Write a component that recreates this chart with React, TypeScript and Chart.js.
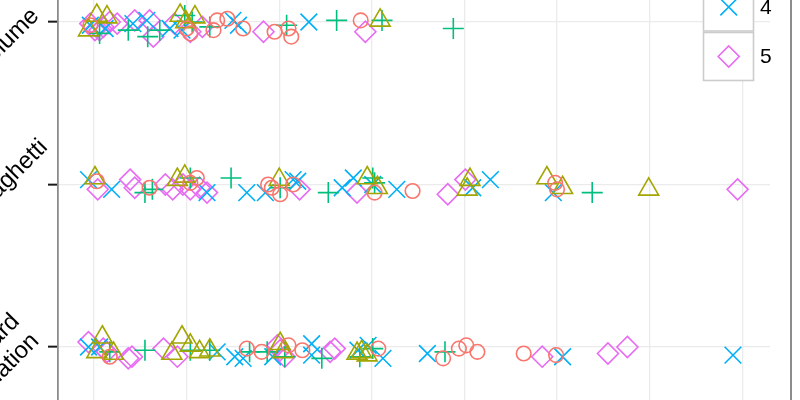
import React, { useEffect, useRef } from 'react';
import { Chart, registerables, PointElement } from 'chart.js';

Chart.register(...registerables);

// Category (y) labels, top to bottom
const categories: string[][] = [['Volume'], ['Spaghetti'], ['Standard', 'deviation']];
const categoryIndex = [0, 1, 2];

const groupNames = ['1', '2', '3', '4', '5'];
const groupColors = ['#F8766D', '#A3A500', '#00BF7D', '#00B0F6', '#E76BF3'];
const groupShapes = ['circle', 'triangle', 'cross', 'crossRot', 'rectRot'];
const groupRadii = [7.3, 11.5, 10.5, 11.8, 10.5];

const xGridValues = [0, 10, 20, 30, 40, 50, 60, 70];

// [x value, category index + jitter]
const group1: [number, number][] = [
  [-0.4, 0.02], [10.0, 0.04], [10.4, 0.07], [12.9, 0.05], [13.3, -0.01], [14.4, -0.02], [16.1, 0.04],
  [19.5, 0.06], [21.0, 0.04], [21.3, 0.09], [28.8, -0.01],
  [0.3, 0.98], [6.0, 1.02], [10.4, 0.99], [11.1, 0.96], [18.8, 1.0], [19.2, 1.02], [20.1, 1.06],
  [21.5, 1.0], [30.3, 1.05], [34.4, 1.04], [49.8, 0.99], [50.0, 1.03],
  [1.7, 2.06], [16.5, 2.01], [18.1, 2.03], [21.0, 1.99], [22.5, 2.02], [30.7, 2.01], [37.7, 2.07],
  [39.4, 2.01], [40.2, 1.99], [41.4, 2.03], [46.4, 2.04], [49.9, 2.05],
];
const group2: [number, number][] = [
  [-0.6, 0.05], [0.3, -0.04], [1.4, -0.03], [9.3, -0.04], [9.9, 0.0], [10.9, -0.03], [30.9, -0.01],
  [0.1, 0.96], [9.0, 0.97], [9.8, 0.95], [20.0, 0.97], [29.5, 0.96], [30.6, 1.02], [40.6, 0.97],
  [40.3, 1.03], [48.9, 0.96], [50.6, 1.02], [59.9, 1.03],
  [0.3, 2.03], [0.9, 1.94], [2.1, 2.04], [8.4, 2.04], [9.5, 1.94], [10.4, 1.99], [11.4, 2.03],
  [12.5, 2.02], [20.1, 1.98], [20.4, 2.03], [28.4, 2.04], [28.9, 2.03], [29.5, 2.05],
];
const group3: [number, number][] = [
  [0.6, 0.07], [3.7, 0.05], [5.8, 0.09], [7.1, 0.05], [9.8, -0.04], [10.6, 0.0], [12.5, 0.03],
  [20.8, 0.02], [26.2, -0.01], [31.1, -0.01], [38.8, 0.04],
  [5.5, 1.05], [6.3, 1.03], [10.4, 0.96], [14.8, 0.96], [20.1, 1.02], [25.3, 1.05], [30.1, 0.96],
  [30.3, 0.99], [53.8, 1.05],
  [1.7, 2.03], [5.5, 2.02], [10.4, 2.02], [12.5, 2.02], [16.8, 2.03], [18.7, 2.03], [20.6, 2.06],
  [24.6, 2.07], [28.7, 2.06], [30.1, 2.01], [37.9, 2.03],
];
const group4: [number, number][] = [
  [-0.4, 0.02], [1.2, 0.04], [4.2, 0.01], [5.7, -0.01], [8.2, 0.04], [9.5, 0.05], [15.0, -0.01],
  [15.6, 0.02], [23.2, 0.0],
  [-0.6, 0.97], [1.9, 1.03], [12.2, 1.05], [16.5, 1.05], [18.5, 1.05], [21.5, 0.97], [22.0, 0.98],
  [26.8, 1.02], [28.0, 0.96], [30.1, 1.0], [32.7, 1.03], [40.9, 1.02], [42.8, 0.97], [49.6, 1.05],
  [-0.6, 2.0], [0.6, 2.0], [13.3, 2.03], [15.2, 2.06], [16.1, 2.07], [19.3, 2.06], [23.5, 1.98],
  [23.5, 2.05], [28.5, 2.02], [29.6, 1.99], [31.2, 2.07], [36.0, 2.04], [50.6, 2.06], [69.0, 2.05],
];
const group5: [number, number][] = [
  [-0.4, 0.01], [0.1, 0.05], [0.6, 0.05], [1.0, 0.03], [1.7, 0.0], [2.5, 0.01], [4.4, -0.01],
  [6.0, -0.01], [6.4, 0.09], [8.7, 0.01], [10.4, 0.06], [11.7, 0.03], [18.3, 0.06], [29.3, 0.06],
  [0.4, 1.03], [3.9, 0.97], [4.4, 1.02], [7.7, 1.0], [8.5, 1.03], [9.6, 1.0], [10.4, 1.03],
  [11.4, 1.02], [12.2, 1.05], [22.2, 1.03], [28.4, 1.05], [38.2, 1.06], [40.1, 0.97], [69.5, 1.03],
  [-0.6, 1.97], [1.0, 2.01], [1.4, 2.03], [3.7, 2.07], [4.1, 2.06], [7.5, 2.01], [9.0, 2.06],
  [19.8, 1.99], [20.1, 2.02], [20.6, 2.06], [25.5, 2.03], [26.0, 2.01], [48.4, 2.06], [55.5, 2.04],
  [57.6, 2.0],
];
const groups = [group1, group2, group3, group4, group5];

const FONT = '"Liberation Sans", Arial, Helvetica, sans-serif';
const LABEL_SIZE = 24;
const LABEL_LH = 27.5;
// rotated-frame nudges of each category label (along text, across text)
const labelNudge: [number, number][] = [[0, 0], [28, -16], [0, 0]];

const rotatedLabels = {
  id: 'rotatedLabels',
  afterDraw(chart: any) {
    const ctx = chart.ctx as CanvasRenderingContext2D;
    const ys = chart.scales.y;
    const anchorX = ys.right - 10 - 3;
    ctx.save();
    ctx.fillStyle = '#000000';
    ctx.font = `${LABEL_SIZE}px ${FONT}`;
    ctx.textAlign = 'right';
    ctx.textBaseline = 'middle';
    categoryIndex.forEach((ci) => {
      const lines = categories[ci];
      const n = lines.length;
      const [dx, dy] = labelNudge[ci];
      ctx.save();
      ctx.translate(anchorX, ys.getPixelForValue(ci));
      ctx.rotate(-Math.PI / 4);
      lines.forEach((line, k) => {
        ctx.fillText(line, dx, (k - n + 0.5) * LABEL_LH + dy);
      });
      ctx.restore();
    });
    ctx.restore();
  },
};

const keyLegend = {
  id: 'keyLegend',
  afterDraw(chart: any) {
    const ctx = chart.ctx as CanvasRenderingContext2D;
    const datasets = chart.data.datasets;
    const n = datasets.length;
    ctx.save();
    datasets.forEach((ds: any, k: number) => {
      const cy = 56.5 - (n - 1 - k) * 49.5;
      ctx.fillStyle = '#ffffff';
      ctx.fillRect(703, cy - 24.5, 51, 49);
      ctx.strokeStyle = '#cccccc';
      ctx.lineWidth = 1.6;
      ctx.strokeRect(703.5, cy - 24, 50, 48);
      const el: any = new PointElement({});
      el.x = 728.7;
      el.y = cy;
      el.options = {
        pointStyle: ds.pointStyle,
        radius: ds.pointRadius,
        borderWidth: ds.pointBorderWidth,
        borderColor: ds.pointBorderColor,
        backgroundColor: 'rgba(0,0,0,0)',
        rotation: 0,
        hitRadius: 0,
        hoverRadius: 0,
        hoverBorderWidth: 0,
      };
      el.draw(ctx);
      ctx.fillStyle = '#000000';
      ctx.font = `21px ${FONT}`;
      ctx.textAlign = 'left';
      ctx.textBaseline = 'middle';
      ctx.fillText(ds.label, 760, cy + 1);
    });
    ctx.restore();
  },
};

export default function App() {
  const canvasRef = useRef<HTMLCanvasElement | null>(null);

  useEffect(() => {
    document.body.style.margin = '0';
    const canvas = canvasRef.current;
    if (!canvas) return;
    const chart = new Chart(canvas, {
      type: 'scatter',
      data: {
        datasets: groups.map((g, i) => ({
          label: groupNames[i],
          data: g.map(([x, y]) => ({ x, y })),
          pointStyle: groupShapes[i] as any,
          pointRadius: groupRadii[i],
          pointHoverRadius: groupRadii[i],
          pointBorderWidth: 1.6,
          pointBorderColor: groupColors[i],
          borderColor: groupColors[i],
          pointBackgroundColor: 'rgba(0,0,0,0)',
          backgroundColor: 'rgba(0,0,0,0)',
          showLine: false,
        })),
      },
      options: {
        animation: false,
        responsive: false,
        events: [],
        layout: { autoPadding: false, padding: { left: 0, right: 20, top: 0, bottom: 0 } },
        plugins: {
          legend: { display: false },
          tooltip: { enabled: false },
        },
        scales: {
          x: {
            type: 'linear',
            min: -3.89,
            max: 73.0,
            afterBuildTicks: (scale: any) => {
              scale.ticks = xGridValues.map((v) => ({ value: v }));
            },
            afterFit: (scale: any) => {
              scale.height = 0;
              scale.paddingLeft = 0;
              scale.paddingRight = 0;
            },
            ticks: { display: false },
            border: { display: false },
            grid: { color: '#ebebeb', lineWidth: 1.3, drawTicks: false },
          },
          y: {
            type: 'linear',
            reverse: true,
            min: -0.1354,
            max: 2.3262,
            afterBuildTicks: (scale: any) => {
              scale.ticks = categoryIndex.map((v) => ({ value: v }));
            },
            afterFit: (scale: any) => {
              scale.width = 58;
              scale.paddingTop = 0;
              scale.paddingBottom = 0;
              scale.paddingLeft = 0;
              scale.paddingRight = 0;
            },
            ticks: { display: false },
            border: { display: true, color: '#8c8c8c', width: 1.8 },
            grid: {
              color: '#ebebeb',
              lineWidth: 1.3,
              drawTicks: true,
              tickLength: 10,
              tickColor: '#1a1a1a',
              tickWidth: 2,
            },
          },
        },
      },
      plugins: [rotatedLabels, keyLegend],
    });
    return () => chart.destroy();
  }, []);

  return (
    <div
      style={{
        position: 'fixed',
        left: 0,
        top: 0,
        width: 790,
        height: 400,
        borderRight: '2px solid #8c8c8c',
        background: '#ffffff',
      }}
    >
      <canvas ref={canvasRef} width={790} height={400} style={{ display: 'block' }} />
    </div>
  );
}
